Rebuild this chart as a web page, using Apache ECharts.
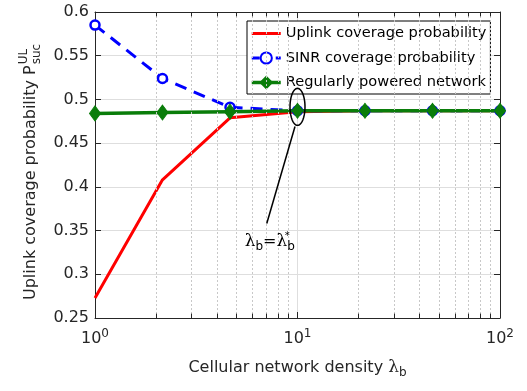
<!DOCTYPE html>
<html><head><meta charset="utf-8">
<script src="https://cdn.jsdelivr.net/npm/echarts@6/dist/echarts.min.js"></script>
<style>html,body{margin:0;padding:0;background:#fff}#c{width:527px;height:391px}</style>
</head><body><div id="c"></div>
<script>
// ---- data ----
const densities = [1, 2.154, 4.642, 10, 21.54, 46.42, 100];
const uplinkCoverage = [0.273, 0.408, 0.479, 0.486, 0.487, 0.487, 0.487];
const sinrCoverage = [0.585, 0.524, 0.491, 0.487, 0.487, 0.487, 0.487];
const regularNetwork = [0.484, 0.485, 0.486, 0.487, 0.487, 0.487, 0.487];
const seriesNames = ['Uplink coverage probability', 'SINR coverage probability', 'Regularly powered network'];
const minorXTicks = [2, 3, 4, 5, 6, 7, 8, 9, 20, 30, 40, 50, 60, 70, 80, 90];
const yMin = 0.25, yMax = 0.6, yStep = 0.05;
const xMin = 1, xMax = 100;
const annotationPoint = [10, 0.4915];
const arrowFrom = [7.05, 0.358];
const arrowTo = [9.72, 0.469];
const annotationTextPos = [7.3, 0.337];
const yTitleMain = 'Uplink coverage probability P';
const yTitleSup = 'UL';
const yTitleSub = 'suc';

const FONT = 'DejaVu Sans';
const TXT = '#262626';
const RED = '#ff0000', BLUE = '#0000ff', GREEN = '#0a7d0a';
const pairs = ys => densities.map((x, i) => [x, ys[i]]);

const chart = echarts.init(document.getElementById('c'), null, {renderer: 'canvas'});

const minorGrid = minorXTicks.map(x => ({xAxis: x}));
const minorTicksBottom = minorXTicks.map(x => [{coord: [x, yMin]}, {coord: [x, yMin + 0.005]}]);
const minorTicksTop = minorXTicks.map(x => [{coord: [x, yMax]}, {coord: [x, yMax - 0.005]}]);

const xLabelRich = {
  b: {fontSize: 16, fontFamily: FONT, color: TXT, lineHeight: 22},
  s: {fontSize: 12, fontFamily: FONT, color: TXT, lineHeight: 12, verticalAlign: 'top'}
};

chart.setOption({
  animation: false,
  backgroundColor: '#fff',
  grid: {left: 95, right: 27, top: 12, bottom: 73, containLabel: false},
  legend: {
    data: [
      {name: seriesNames[0], itemStyle: {opacity: 0}, lineStyle: {width: 3, color: RED}},
      {name: seriesNames[1], lineStyle: {width: 3, color: BLUE, type: [8, 4]}},
      {name: seriesNames[2], lineStyle: {width: 3.5, color: GREEN}}
    ],
    orient: 'vertical',
    left: 247, top: 21,
    padding: [5, 4, 4, 3],
    itemGap: 9.5,
    itemWidth: 29, itemHeight: 14,
    backgroundColor: '#fff',
    borderColor: '#000', borderWidth: 1, borderRadius: 0,
    textStyle: {fontSize: 14.6, fontFamily: FONT, color: '#000'}
  },
  xAxis: [{
    type: 'log', logBase: 10, min: xMin, max: xMax,
    position: 'bottom',
    name: '{t|Cellular network density }{l|λ}{s|b}',
    nameLocation: 'middle', nameGap: 39,
    nameTextStyle: {
      rich: {
        t: {fontSize: 16, fontFamily: FONT, color: TXT, lineHeight: 22},
        l: {fontSize: 17, fontFamily: 'DejaVu Serif', color: TXT, lineHeight: 22},
        s: {fontSize: 12, fontFamily: FONT, color: TXT, lineHeight: 12, verticalAlign: 'bottom'}
      }
    },
    axisLine: {show: true, lineStyle: {color: TXT, width: 1}},
    axisTick: {show: true, inside: true, length: 6, lineStyle: {color: TXT}},
    axisLabel: {
      margin: 10,
      formatter: v => '{b|10}{s|' + Math.round(Math.log10(v)) + '}',
      rich: xLabelRich
    },
    splitLine: {show: true, lineStyle: {color: '#dedede', width: 1}}
  }, {
    type: 'log', logBase: 10, min: xMin, max: xMax,
    position: 'top',
    axisLine: {show: true, lineStyle: {color: TXT, width: 1}},
    axisTick: {show: true, inside: true, length: 6, lineStyle: {color: TXT}},
    axisLabel: {show: false},
    splitLine: {show: false}
  }],
  yAxis: [{
    type: 'value', min: yMin, max: yMax, interval: yStep,
    position: 'left',
    axisLine: {show: true, lineStyle: {color: TXT, width: 1}},
    axisTick: {show: true, inside: true, length: 6, lineStyle: {color: TXT}},
    axisLabel: {fontSize: 16, fontFamily: FONT, color: TXT, margin: 6},
    splitLine: {show: true, lineStyle: {color: '#dedede', width: 1}}
  }, {
    type: 'value', min: yMin, max: yMax, interval: yStep,
    position: 'right',
    axisLine: {show: true, lineStyle: {color: TXT, width: 1}},
    axisTick: {show: true, inside: true, length: 6, lineStyle: {color: TXT}},
    axisLabel: {show: false},
    splitLine: {show: false}
  }],
  series: [{
    name: '_minor', type: 'line', data: [], silent: true,
    markLine: {
      silent: true, symbol: 'none', label: {show: false},
      lineStyle: {color: '#c8c8c8', type: [2, 2], width: 1},
      data: minorGrid
    }
  }, {
    name: '_minorTicks', type: 'line', data: [], silent: true,
    markLine: {
      silent: true, symbol: 'none', label: {show: false},
      lineStyle: {color: TXT, type: 'solid', width: 1},
      data: minorTicksBottom.concat(minorTicksTop)
    }
  }, {
    name: seriesNames[0], type: 'line', data: pairs(uplinkCoverage),
    symbol: 'none', showSymbol: false,
    lineStyle: {color: RED, width: 3},
    itemStyle: {color: RED}
  }, {
    name: seriesNames[1], type: 'line', data: pairs(sinrCoverage),
    symbol: 'circle', symbolSize: 9, showSymbol: true,
    lineStyle: {color: BLUE, width: 3, type: [12, 8]},
    itemStyle: {color: '#ffffff', borderColor: BLUE, borderWidth: 2.5}
  }, {
    name: seriesNames[2], type: 'line', data: pairs(regularNetwork),
    symbol: 'diamond', symbolSize: [11, 15], showSymbol: true,
    lineStyle: {color: GREEN, width: 3.5},
    itemStyle: {color: GREEN, borderColor: GREEN, borderWidth: 1}
  }, {
    name: '_arrow', type: 'line', data: [], silent: true,
    markLine: {
      silent: true, label: {show: false},
      symbol: ['none', 'arrow'], symbolSize: [0, 9],
      lineStyle: {color: '#000', type: 'solid', width: 1.5},
      data: [[{coord: arrowFrom}, {coord: arrowTo}]]
    }
  }]
});

// y-axis title (rotated, with stacked super/subscript)
const ctx = document.createElement('canvas').getContext('2d');
ctx.font = '16px "DejaVu Sans"';
const mainW = ctx.measureText(yTitleMain).width;
const bottomPx = chart.convertToPixel({yAxisIndex: 0}, yMin);
const yTitleStart = bottomPx - 18;

// annotation ellipse + label anchored through the axis scales
const c = chart.convertToPixel({xAxisIndex: 0, yAxisIndex: 0}, annotationPoint);
const pts = [];
for (let i = 0; i < 60; i++) {
  const a = i / 60 * Math.PI * 2;
  pts.push([c[0] + 7.5 * Math.cos(a), c[1] + 18.5 * Math.sin(a)]);
}
const tp = chart.convertToPixel({xAxisIndex: 0, yAxisIndex: 0}, annotationTextPos);
chart.setOption({
  graphic: [{
    type: 'group', x: 31, y: yTitleStart, rotation: Math.PI / 2, silent: true,
    children: [{
      type: 'text', x: 0, y: 0,
      style: {text: yTitleMain, font: '16px "DejaVu Sans"', fill: TXT, align: 'left', verticalAlign: 'middle'}
    }, {
      type: 'text', x: mainW + 1, y: -7,
      style: {text: yTitleSup, font: '12px "DejaVu Sans"', fill: TXT, align: 'left', verticalAlign: 'middle'}
    }, {
      type: 'text', x: mainW + 1, y: 6,
      style: {text: yTitleSub, font: '12px "DejaVu Sans"', fill: TXT, align: 'left', verticalAlign: 'middle'}
    }]
  }, {
    type: 'polygon', shape: {points: pts}, silent: true, z: 100,
    style: {fill: 'none', stroke: '#000', lineWidth: 1.5}
  }, {
    type: 'text', x: tp[0], y: tp[1], z: 100, silent: true,
    style: {
      text: '{l|λ}{s|b}{e|=}{l|λ}{p|*}{s|b}',
      align: 'center', verticalAlign: 'middle',
      rich: {
        l: {fontSize: 17, fontFamily: 'DejaVu Serif', fill: '#000', lineHeight: 22},
        e: {fontSize: 16, fontFamily: FONT, fill: '#000', lineHeight: 22},
        s: {fontSize: 12, fontFamily: FONT, fill: '#000', lineHeight: 12, verticalAlign: 'bottom'},
        p: {fontSize: 10, fontFamily: FONT, fill: '#000', lineHeight: 10, verticalAlign: 'top', width: 0, align: 'left'}
      }
    }
  }]
});
</script>
</body></html>
